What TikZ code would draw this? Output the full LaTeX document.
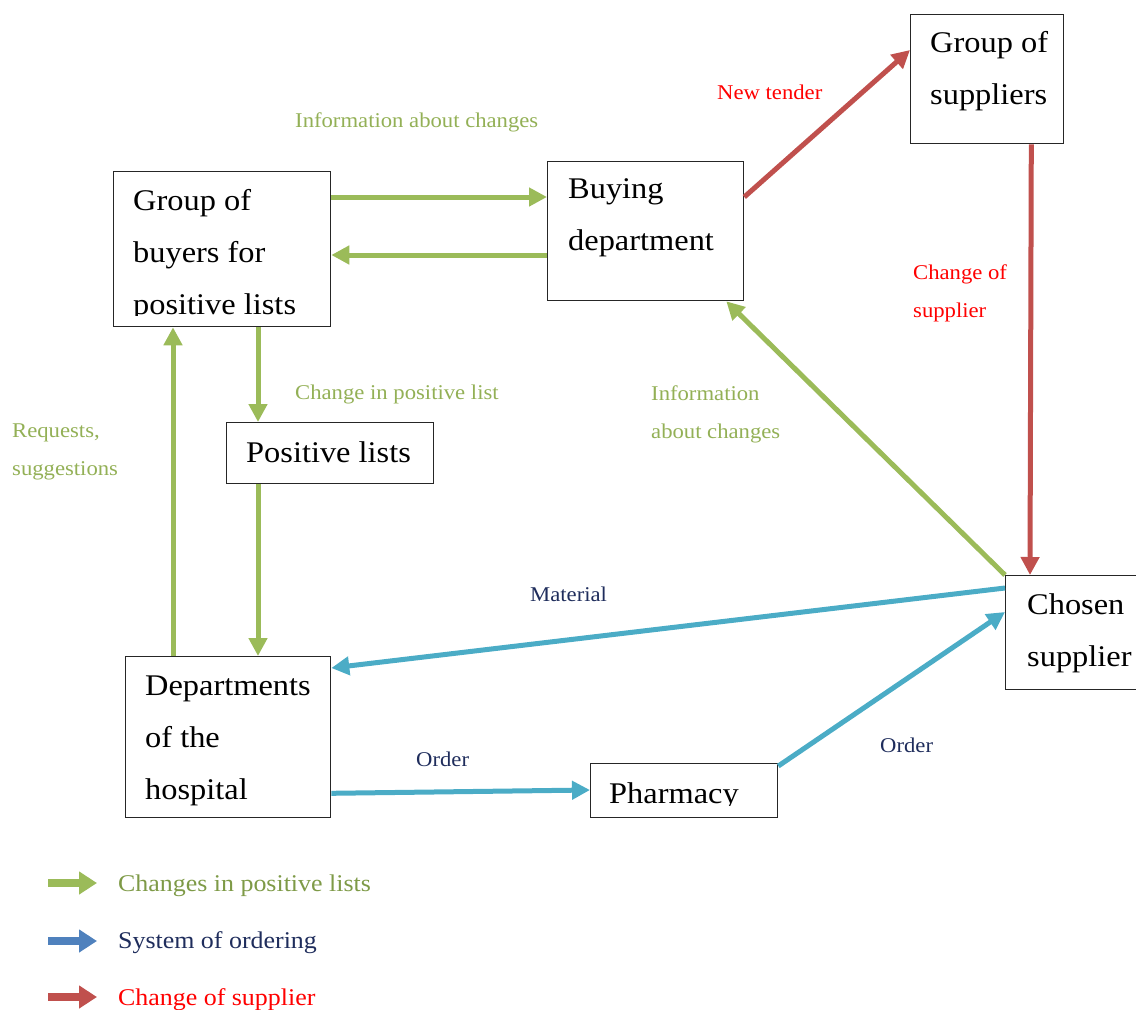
\documentclass[tikz,border=0pt]{standalone}
\usepackage{fontspec}
\setmainfont[FakeStretch=1.08]{Liberation Serif}
\usetikzlibrary{arrows.meta,calc}
\definecolor{cgreen}{HTML}{9BBB59}
\definecolor{cblue}{HTML}{4BACC6}
\definecolor{cred}{HTML}{C0504D}
\definecolor{lblue}{HTML}{4F81BD}
\definecolor{navytext}{HTML}{1F2D5C}
\definecolor{gtext}{HTML}{93B056}
\definecolor{legolive}{HTML}{7E9A47}
\begin{document}
\begin{tikzpicture}[x=1pt,y=-1pt,
  box/.style={draw=black!85, line width=1.3pt, rectangle, inner sep=0pt, anchor=north west},
  boxtext/.style={font=\fontsize{30}{52}\selectfont, align=flush left, text width=200pt, inner sep=0pt, anchor=base west},
  lbl/.style={font=\fontsize{21}{38}\selectfont, align=flush left, text width=300pt, inner sep=0pt, anchor=base west},
  legtext/.style={font=\fontsize{24}{30}\selectfont, inner sep=0pt, anchor=base west},
  conn/.style={line width=5pt, -{Triangle[length=18pt,width=18pt]}},
  legarrow/.style={line width=8pt, -{Triangle[length=18pt,width=22pt]}},
  greenflow/.style={conn, draw=cgreen},
  blueflow/.style={conn, draw=cblue},
  redflow/.style={conn, draw=cred}]
\useasboundingbox (0,0) rectangle (1136,1010);

% boxes
\node[box, minimum width=217pt, minimum height=155pt] (gb) at (113,171) {};
\node[box, minimum width=196pt, minimum height=139pt] (bd) at (547,161) {};
\node[box, minimum width=153pt, minimum height=129pt] (gs) at (910,14) {};
\node[box, minimum width=207pt, minimum height=61pt] (pl) at (226,422) {};
\node[box, minimum width=205pt, minimum height=161pt] (dh) at (125,656) {};
\node[box, minimum width=187pt, minimum height=54pt] (ph) at (590,763) {};
\node[box, minimum width=145pt, minimum height=114pt] (cs) at (1005,575) {};

% box texts
\begin{scope}
\clip (gb.north west) rectangle ([yshift=-144pt]gb.north east);
\node[boxtext] (tgb) at ($(gb.north west)+(20,39)$) {Group of\\buyers for\\positive lists};
\end{scope}
\node[boxtext] (tbd) at ($(bd.north west)+(21,37)$) {Buying\\department};
\node[boxtext] (tgs) at ($(gs.north west)+(20,38)$) {Group of\\suppliers};
\node[boxtext] (tpl) at ($(pl.north west)+(20,40)$) {Positive lists};
\node[boxtext] (tdh) at ($(dh.north west)+(20,39)$) {Departments\\of the\\hospital};
\begin{scope}
\clip (ph.north west) rectangle ([yshift=-42pt]ph.north east);
\node[boxtext] (tph) at ($(ph.north west)+(19,40)$) {Pharmacy};
\end{scope}
\node[boxtext] (tcs) at ($(cs.north west)+(22,39)$) {Chosen\\supplier};

% connectors
\draw[greenflow] ([yshift=-26pt]gb.north east) -- ([yshift=-36pt]bd.north west);
\draw[greenflow] ([yshift=-94pt]bd.north west) -- ([yshift=-84pt]gb.north east);
\draw[greenflow] ([xshift=145pt]gb.south west) -- ([xshift=32pt]pl.north west);
\draw[greenflow] ([xshift=32pt]pl.south west) -- ([xshift=133pt]dh.north west);
\draw[greenflow] ([xshift=48pt]dh.north west) -- ([xshift=60pt]gb.south west);
\draw[greenflow] (cs.north west) -- ([xshift=-18pt]bd.south east);
\draw[redflow] ([yshift=-36pt]bd.north east) -- ([yshift=-36pt]gs.north west);
\draw[redflow] ([xshift=-33pt]gs.south east) -- ([xshift=25pt]cs.north west);
\draw[blueflow] ([yshift=-13pt]cs.north west) -- ([yshift=-12pt]dh.north east);
\draw[blueflow] ([yshift=25pt]dh.south east) -- ([yshift=-27pt]ph.north west);
\draw[blueflow] ([yshift=-3pt]ph.north east) -- ([yshift=-37pt]cs.north west);

% labels
\node[lbl, text=gtext] (l1) at (295,127) {Information about changes};
\node[lbl, text=red] (l2) at (717,99) {New tender};
\node[lbl, text=red] (l3) at (913,279) {Change of\\supplier};
\node[lbl, text=gtext] (l4) at (295,399) {Change in positive list};
\node[lbl, text=gtext] (l5) at (12,437) {Requests,\\suggestions};
\node[lbl, text=gtext] (l6) at (651,400) {Information\\about changes};
\node[lbl, text=navytext] (l7) at (530,601) {Material};
\node[lbl, text=navytext] (l8) at (416,766) {Order};
\node[lbl, text=navytext] (l9) at (880,752) {Order};

% legend
\coordinate (g1) at (48,883); \coordinate (g2) at (97,883);
\coordinate (b1) at (48,941); \coordinate (b2) at (97,941);
\coordinate (r1) at (48,997); \coordinate (r2) at (97,997);
\draw[legarrow, draw=cgreen] (g1) -- (g2);
\draw[legarrow, draw=lblue] (b1) -- (b2);
\draw[legarrow, draw=cred] (r1) -- (r2);
\node[legtext, text=legolive] (lg1) at (118,891) {Changes in positive lists};
\node[legtext, text=navytext] (lg2) at (118,948) {System of ordering};
\node[legtext, text=red] (lg3) at (118,1005) {Change of supplier};
\end{tikzpicture}
\end{document}
